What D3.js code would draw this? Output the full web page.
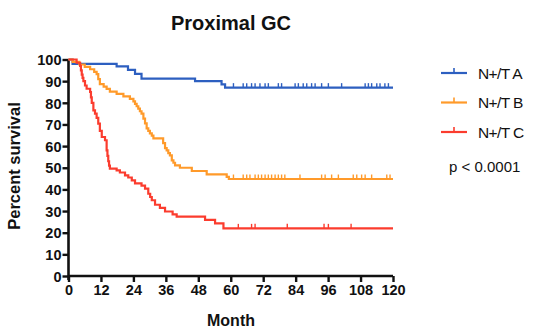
<!DOCTYPE html>
<html><head><meta charset="utf-8">
<script src="https://cdn.jsdelivr.net/npm/d3@7"></script>
<style>body{margin:0;background:#fff}svg{display:block}text{font-family:"Liberation Sans",Arial,sans-serif}</style>
</head><body><svg id="c" width="537" height="329"></svg>
<script>
const seriesNames = ["N+/T A", "N+/T B", "N+/T C"];
const seriesColors = ["#2d5fc0", "#ff9a2a", "#fb3c2e"];
const xTicks = [0, 12, 24, 36, 48, 60, 72, 84, 96, 108, 120];
const yTicks = [0, 10, 20, 30, 40, 50, 60, 70, 80, 90, 100];
const pText = "p < 0.0001";

const blueTimes = [0, 1.5, 17.8, 22, 24.6, 27, 46.8, 56.6, 57.9];
const blueSurv  = [100, 98, 96.8, 95.2, 93.4, 91.2, 90, 88.5, 87];
const blueCens  = [61, 64.6, 65.9, 67.7, 69, 70.8, 72.7, 73.9, 77.6, 78.8, 83.8, 85, 86.8, 88.1, 89.9, 91.2, 93.6, 96.1, 101, 109.7, 110.9, 112.1, 114, 115.2, 117, 118.3];

const orangeTimes = [0, 1.5, 4, 6, 8, 9.5, 10.4, 11, 11.6, 13, 14.1, 15.3, 17.8, 20.3, 22.7, 24, 24.6, 25.2, 25.8, 26.4, 27, 27.7, 28.3, 28.9, 29.5, 30.1, 30.8, 31.4, 35, 35.7, 36.3, 36.9, 37.5, 38.2, 38.8, 39.4, 41.2, 45.6, 51.1, 58.5, 59.3];
const orangeSurv  = [100, 98.9, 97.7, 96.6, 95.5, 94.3, 93.2, 90.9, 88.6, 87.5, 86.4, 85.2, 84.1, 83, 81.8, 80.7, 79.5, 78.4, 77.3, 76.1, 75, 72.7, 70.5, 68.2, 67, 65.9, 64.8, 63.6, 61.4, 59.1, 58, 56.8, 55.7, 53.4, 52.3, 51.1, 50, 48.5, 46.9, 45.8, 44.8];
const orangeCens  = [61, 64.6, 65.9, 67.1, 69, 70.2, 71.4, 72.7, 73.9, 75.1, 76.4, 77.6, 78.8, 80, 85.6, 93.6, 94.9, 97.3, 99.8, 105.3, 106.6, 108.4, 109.7, 112.1, 117.7, 118.9];

const redTimes = [0, 3, 4.3, 4.6, 4.9, 5.2, 5.5, 6.1, 6.7, 8, 8.3, 8.6, 9.2, 9.8, 10.4, 11, 11.6, 12.3, 13.5, 14.1, 14.4, 14.7, 15, 15.3, 17.8, 19, 20.9, 22.1, 23.4, 24.6, 27, 28.3, 29.5, 30.2, 30.8, 32, 33.8, 35.7, 38.5, 40, 50.5, 54.2, 57.3];
const redSurv  = [100, 98.5, 97, 95, 93, 91.5, 90, 88, 86.5, 85, 82.5, 80, 76.5, 75, 73, 70.4, 67, 64.2, 62.7, 58, 55.5, 53, 51, 49.6, 48.8, 47.8, 46.5, 45.5, 44.2, 42.8, 41.7, 40.4, 38, 36.5, 35, 32.9, 31.5, 29.8, 28.5, 27.4, 25.9, 24.3, 22];
const redCens  = [62.8, 67.7, 69, 80.9, 94.5, 96.1, 104.5];

const svg = d3.select("#c");
const x = d3.scaleLinear().domain([0, 120]).range([68.5, 393]);
const y = d3.scaleLinear().domain([0, 100]).range([276, 59.5]);

// axes
const xAxis = svg.append("g").attr("transform", "translate(0,276)")
  .call(d3.axisBottom(x).tickValues(xTicks).tickSize(6).tickPadding(3).tickFormat(d3.format("d")));
const yAxis = svg.append("g").attr("transform", "translate(68.5,0)")
  .call(d3.axisLeft(y).tickValues(yTicks).tickSize(6).tickPadding(1).tickFormat(d3.format("d")));
[xAxis, yAxis].forEach(a => {
  a.select(".domain").attr("stroke", "#111").attr("stroke-width", 2.6);
  a.selectAll(".tick line").attr("stroke", "#111").attr("stroke-width", 2.4);
  a.selectAll(".tick text").attr("fill", "#111").attr("font-size", 14.5).attr("font-weight", "bold")
    .style("font-family", '"Liberation Sans", Arial, sans-serif');
});
xAxis.select(".domain").attr("d", "M68.5,0H393");
yAxis.select(".domain").attr("d", "M0,59.5V280");
yAxis.selectAll(".tick text").attr("dy", "0.36em");

// curves
const data = [
  {t: blueTimes, s: blueSurv, c: blueCens},
  {t: orangeTimes, s: orangeSurv, c: orangeCens},
  {t: redTimes, s: redSurv, c: redCens}
];
const line = d3.line().x(d => x(d[0])).y(d => y(d[1])).curve(d3.curveStepAfter);
data.forEach((d, i) => {
  const pts = d.t.map((t, k) => [t, d.s[k]]);
  pts.push([120, d.s[d.s.length - 1]]);
  svg.append("path").attr("d", line(pts)).attr("fill", "none")
    .attr("stroke", seriesColors[i]).attr("stroke-width", 2.2);
  const last = d.s[d.s.length - 1];
  svg.append("g").selectAll("line").data(d.c).join("line")
    .attr("x1", v => x(v)).attr("x2", v => x(v))
    .attr("y1", y(last)).attr("y2", y(last) - 4.5)
    .attr("stroke", seriesColors[i]).attr("stroke-width", 1.4);
});

// legend
const legY = [73, 102.5, 132];
seriesNames.forEach((n, i) => {
  const g = svg.append("g");
  g.append("line").attr("x1", 441).attr("x2", 467).attr("y1", legY[i]).attr("y2", legY[i])
    .attr("stroke", seriesColors[i]).attr("stroke-width", 2.2);
  g.append("line").attr("x1", 454).attr("x2", 454).attr("y1", legY[i]).attr("y2", legY[i] - 5)
    .attr("stroke", seriesColors[i]).attr("stroke-width", 1.6);
  g.append("text").attr("x", 478).attr("y", legY[i] + 5.5).attr("font-size", 15.5)
    .attr("letter-spacing", -0.6).attr("fill", "#111").text(n);
});
svg.append("text").attr("x", 449).attr("y", 171.5).attr("font-size", 15).attr("fill", "#111").text(pText);

// titles
svg.append("text").attr("x", 231).attr("y", 30).attr("text-anchor", "middle")
  .attr("font-size", 20).attr("font-weight", "bold").attr("fill", "#111").text("Proximal GC");
svg.append("text").attr("x", 231).attr("y", 326).attr("text-anchor", "middle")
  .attr("font-size", 16).attr("font-weight", "bold").attr("fill", "#111").text("Month");
svg.append("text").attr("transform", "translate(20,166) rotate(-90)").attr("text-anchor", "middle")
  .attr("font-size", 16.5).attr("font-weight", "bold").attr("fill", "#111").text("Percent survival");
</script></body></html>
